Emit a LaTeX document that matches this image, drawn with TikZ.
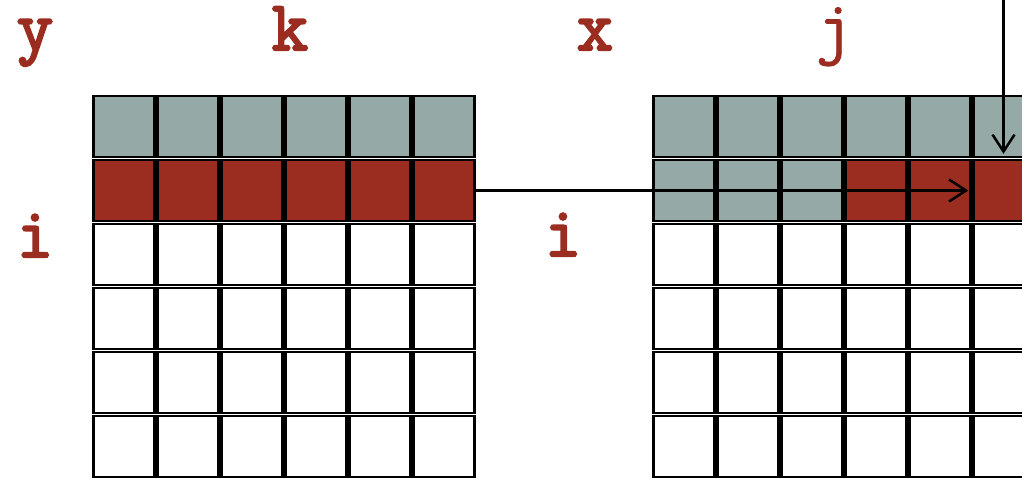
\documentclass[tikz,border=0pt]{standalone}
\usepackage{fontspec}
\usetikzlibrary{arrows.meta}
\newfontfamily\labelfontheavy{Latin Modern Mono}[FakeBold=3]
\newfontfamily\labelfontplain{Latin Modern Mono}[FakeBold=1]
\definecolor{cellgray}{RGB}{149,169,167}
\definecolor{cellred}{RGB}{155,45,32}
\definecolor{labelred}{RGB}{155,45,32}
\tikzset{
  cell/.style={draw=black, line width=2.5pt, minimum size=60.8pt, inner sep=0pt, fill=white},
  grayc/.style={cell, fill=cellgray},
  redc/.style={cell, fill=cellred},
  lblbase/.style={text=labelred, anchor=base, inner sep=0pt, text height=40pt, text depth=13pt},
  lbl/.style={lblbase, font=\fontsize{71}{71}\selectfont\labelfontheavy},
  lblthin/.style={lblbase, font=\fontsize{71}{71}\selectfont\labelfontplain},
  flow/.style={line width=2.5pt, -{Straight Barb[length=17pt, width=22pt, line width=2.5pt]}}
}
\begin{document}
\begin{tikzpicture}[x=1pt, y=-1pt]
  \useasboundingbox (0,0) rectangle (1022,477);
  \clip (0,0) rectangle (1022,477);
  % left matrix: top row gray, second row red, remainder white
  \foreach \r in {0,...,5} {
    \foreach \c in {0,...,5} {
      \ifnum\r=0 \def\sty{grayc}\else\ifnum\r=1 \def\sty{redc}\else\def\sty{cell}\fi\fi
      \node[\sty] (L-\r-\c) at ({124+64*\c}, {126.5+64*\r}) {};
    }
  }
  % right matrix: top row gray, second row partly gray, partly red
  \foreach \r in {0,...,5} {
    \foreach \c in {0,...,5} {
      \ifnum\r=0 \def\sty{grayc}\else\ifnum\r=1 \ifnum\c<3 \def\sty{grayc}\else\def\sty{redc}\fi\else\def\sty{cell}\fi\fi
      \node[\sty] (R-\r-\c) at ({684+64*\c}, {126.5+64*\r}) {};
    }
  }
  % labels
  \node[lbl] (ly) at (35,50) {y};
  \node[lbl] (lk) at (290,50) {k};
  \node[lbl] (lx) at (595,50) {x};
  \node[lblthin] (lj) at (834,50) {j};
  \node[lbl] (li1) at (35,257) {i};
  \node[lbl] (li2) at (563,256) {i};
  % arrows
  \coordinate (top) at (1003.5,0);
  \coordinate (hend) at ([xshift=-4pt]R-1-5.west);
  \draw[flow] (L-1-5.east |- hend) -- (hend);
  \draw[flow] (top) -- ([xshift=-0.5pt, yshift=5pt]R-1-5.north);
\end{tikzpicture}
\end{document}
